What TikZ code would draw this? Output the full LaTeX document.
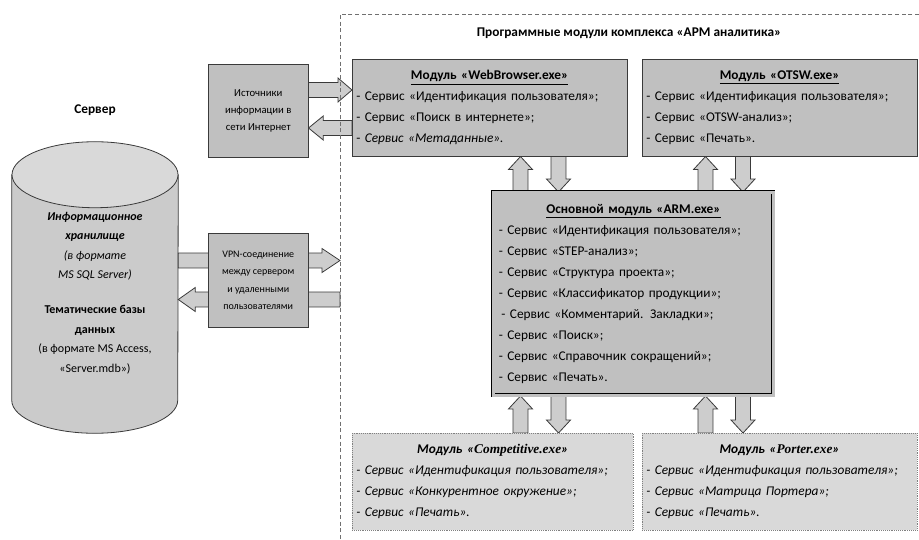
\documentclass[tikz,border=0pt]{standalone}
\usepackage{fontspec}
\setmainfont{Carlito}
\newfontfamily\serifit{Liberation Serif}
\usetikzlibrary{positioning, calc, backgrounds}

\definecolor{boxgray}{HTML}{C0C0C0}
\definecolor{lightbox}{HTML}{D9D9D9}
\definecolor{arrgray}{HTML}{CDCDCD}
\definecolor{edgegray}{HTML}{3A3A3A}
\definecolor{framegray}{HTML}{707070}
\definecolor{cylgray}{HTML}{CBCBCB}
\definecolor{cyltop}{HTML}{D9D9D9}

% block arrow: [head length]{from}{to}
\newcommand{\blockarrow}[3][9.75pt]{%
  \path ($(#3)!#1!(#2)$) coordinate (ah);
  \filldraw[blockarr] ($(#2)!5.6pt!90:(#3)$) -- ($(ah)!5.6pt!-90:(#2)$) -- ($(ah)!9pt!-90:(#2)$) -- (#3)
    -- ($(ah)!9pt!90:(#2)$) -- ($(ah)!5.6pt!90:(#2)$) -- ($(#2)!5.6pt!-90:(#3)$) -- cycle;
}
% centred title line inside a left-aligned box
\newcommand{\boxtitle}[1]{\hspace*{\fill}#1\hspace*{\fill}\mbox{}}

\begin{document}
\begin{tikzpicture}[
    x=0.75pt, y=-0.75pt,
    modbox/.style={rectangle, draw=edgegray, fill=boxgray, anchor=north west, inner xsep=3pt, align=left, font=\fontsize{10}{15.75}\selectfont},
    armbox/.style={modbox, draw=black, line width=0.7pt, double=boxgray, double distance=1.6pt, inner xsep=4pt},
    extbox/.style={modbox, fill=lightbox, draw=gray, densely dotted},
    srcbox/.style={rectangle, draw=edgegray, fill=boxgray, anchor=north west, align=center, minimum width=75pt},
    blockarr/.style={fill=arrgray, draw=edgegray, line width=0.6pt, line join=miter},
    frame/.style={draw=framegray, dash pattern=on 3pt off 2pt, line width=0.6pt},
    cylbody/.style={fill=cylgray, draw=edgegray, line width=0.6pt}
]
    \useasboundingbox (0,0) rectangle (919,539);

    % dashed frame of the program complex
    \draw[frame] (919,14) -| (340,539);
    \node[font=\fontsize{10}{12}\selectfont\bfseries] (grouptitle) at (629,33) {Программные модули комплекса «АРМ аналитика»};

    % top modules
    \node[modbox, text width=200pt, minimum height=72.75pt] (web) at (352,59)
        {\boxtitle{\underline{\textbf{Модуль «WebBrowser.exe»}}}\\
         - Сервис «Идентификация пользователя»;\\
         - Сервис «Поиск в интернете»;\\
         - \textit{Сервис «Метаданные».}};
    \node[modbox, text width=200pt, minimum height=72.75pt] (otsw) at (642,59)
        {\boxtitle{\underline{\textbf{Модуль «OTSW.exe»}}}\\
         - Сервис «Идентификация пользователя»;\\
         - Сервис «OTSW-анализ»;\\
         - Сервис «Печать».};

    % main module
    \node[armbox, text width=202pt, minimum height=152.25pt] (arm) at (493,192)
        {\boxtitle{\underline{\textbf{Основной модуль «ARM.exe»}}}\\
         - Сервис «Идентификация пользователя»;\\
         - Сервис «STEP-анализ»;\\
         - Сервис «Структура проекта»;\\
         - Сервис «Классификатор продукции»;\\
         \hspace{2pt}- Сервис «Комментарий. Закладки»;\\
         - Сервис «Поиск»;\\
         - Сервис «Справочник сокращений»;\\
         - Сервис «Печать».};

    % bottom modules
    \node[extbox, text width=204.75pt, minimum height=72.75pt] (comp) at (352,433)
        {\boxtitle{\textbf{\textit{Модуль «{\serifit Competitive.exe}»}}}\\
         \textit{- Сервис «Идентификация пользователя»;}\\
         \textit{- Сервис «Конкурентное окружение»;}\\
         \textit{- Сервис «Печать».}};
    \node[extbox, text width=200pt, minimum height=72.75pt] (porter) at (642,433)
        {\boxtitle{\textbf{\textit{Модуль «{\serifit Porter.exe}»}}}\\
         \textit{- Сервис «Идентификация пользователя»;}\\
         \textit{- Сервис «Матрица Портера»;}\\
         \textit{- Сервис «Печать».}};

    % left side
    \node[srcbox, minimum height=69.75pt, font=\fontsize{8}{12.75}\selectfont] (inet) at (208,64)
        {Источники\\информации в\\сети Интернет};
    \node[srcbox, minimum height=70.5pt, font=\fontsize{7.5}{13}\selectfont] (vpn) at (208,233)
        {VPN-соединение\\между сервером\\и удаленными\\пользователями};

    % server
    \node[font=\fontsize{10}{12}\selectfont\bfseries] (srvlabel) at (95,110) {Сервер};
    \node[minimum width=124.5pt, minimum height=168.75pt, inner sep=0pt] (srv) at (95,287.5) {};
    \node[align=center, font=\fontsize{9}{14.6}\selectfont] (srvtxt) at (95,293)
        {\textbf{\textit{Информационное}}\\
         \textbf{\textit{хранилище}}\\
         \textit{(в формате}\\
         \textit{MS SQL Server)}\\[11.6pt]
         \textbf{Тематические базы}\\
         \textbf{данных}\\
         (в формате MS Access,\\
         «Server.mdb»)};

    \coordinate (fr1) at (340,260.5);
    \coordinate (fr2) at (340,299.5);

    \begin{pgfonlayer}{background}
        % cylinder
        \draw[cylbody] (srv.north west) -- (srv.south west)
            arc[start angle=180, end angle=360, x radius=62.25pt, y radius=24.75pt]
            -- (srv.north east) -- cycle;
        \draw[cylbody, fill=cyltop] (srv.north) ellipse[x radius=62.25pt, y radius=24.75pt];

        % block arrows
        \blockarrow[10.5pt]{inet.east |- 0,90}{web.west |- 0,90}
        \blockarrow[11pt]{web.west |- 0,128}{inet.east |- 0,128}
        \blockarrow{520.5,0 |- arm.north}{520.5,0 |- web.south}
        \blockarrow{558.5,0 |- web.south}{558.5,0 |- arm.north}
        \blockarrow{705.5,0 |- arm.north}{705.5,0 |- otsw.south}
        \blockarrow{743,0 |- otsw.south}{743,0 |- arm.north}
        \blockarrow{520.5,0 |- comp.north}{520.5,0 |- arm.south}
        \blockarrow{558.5,0 |- arm.south}{558.5,0 |- comp.north}
        \blockarrow{705.5,0 |- porter.north}{705.5,0 |- arm.south}
        \blockarrow{743,0 |- arm.south}{743,0 |- porter.north}
        \blockarrow[13.5pt]{srv.east |- fr1}{fr1}
        \blockarrow[12.75pt]{fr2}{srv.east |- fr2}
    \end{pgfonlayer}
\end{tikzpicture}
\end{document}
